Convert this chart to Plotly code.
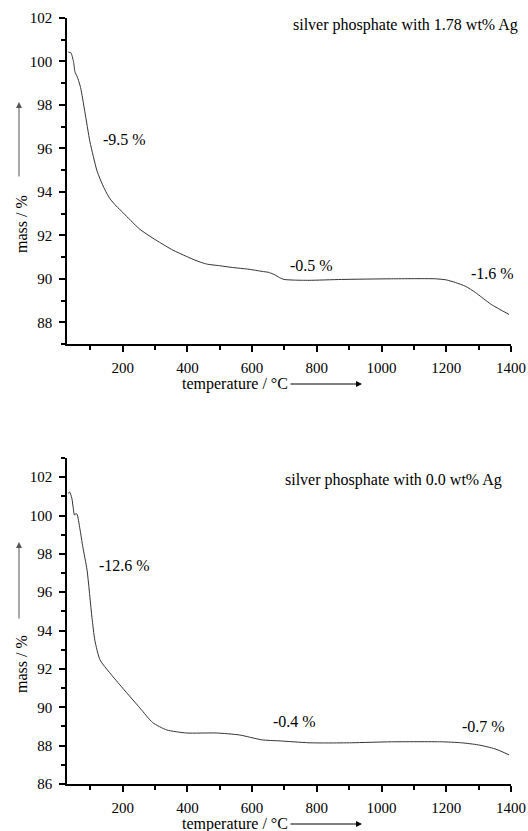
import plotly.graph_objects as go

# ---- data ----
temp_top = [32, 40, 48, 53, 58, 62, 70, 83, 99, 120, 130, 145, 160, 180, 200, 225, 253, 285, 314,
            355, 397, 430, 459, 500, 540, 590, 631, 650, 668, 685, 699, 730, 776, 877, 1031,
            1166, 1200, 1228, 1260, 1290, 1339, 1394]
mass_top = [100.43, 100.4, 100.0, 99.5, 99.35, 99.2, 98.8, 97.7, 96.3, 95.0, 94.6, 94.1, 93.7,
            93.35, 93.06, 92.68, 92.28, 91.95, 91.68, 91.32, 91.03, 90.82, 90.68, 90.6, 90.52,
            90.44, 90.34, 90.3, 90.2, 90.05, 89.97, 89.94, 89.93, 89.97, 90.0, 90.0, 89.95,
            89.83, 89.65, 89.37, 88.82, 88.36]

temp_bot = [31, 36, 43, 48, 51, 55, 59, 68, 77, 90, 105, 114, 130, 160, 200, 253, 293, 336,
            397, 489, 560, 631, 683, 776, 837, 908, 1031, 1185, 1246, 1299, 1351, 1394]
mass_bot = [101.15, 101.22, 100.9, 100.3, 100.02, 100.1, 100.07, 99.3, 98.35, 97.15, 94.7, 93.5,
            92.47, 91.8, 91.0, 89.97, 89.2, 88.82, 88.66, 88.66, 88.56, 88.3, 88.25, 88.15,
            88.14, 88.15, 88.2, 88.2, 88.15, 88.04, 87.83, 87.52]

titles = ["silver phosphate with 1.78 wt% Ag", "silver phosphate with 0.0 wt% Ag"]
title_pos = [(1074, 101.7), (1037, 101.84)]
steps_top = ["-9.5 %", "-0.5 %", "-1.6 %"]
steps_top_pos = [(206, 96.42), (785, 90.62), (1342, 90.25)]
steps_bot = ["-12.6 %", "-0.4 %", "-0.7 %"]
steps_bot_pos = [(206, 97.42), (730, 89.24), (1314, 88.98)]

x_range = [28, 1400]
y_range_top = [87, 102]
y_range_bot = [86, 103]

FONT = "Liberation Serif, Times New Roman, serif"
W, H = 528, 831
ML, MR, MT, MB = 67, 17, 18, 47
PW, PH = W - ML - MR, H - MT - MB

def px(x):  # pixel x -> paper
    return (x - ML) / PW

def py(y):  # pixel y -> paper
    return (H - MB - y) / PH

fig = go.Figure()
fig.add_trace(go.Scatter(x=temp_top, y=mass_top, mode="lines", xaxis="x", yaxis="y",
                         line=dict(color="#333333", width=1, shape="spline", smoothing=0.6),
                         showlegend=False, hoverinfo="skip"))
fig.add_trace(go.Scatter(x=temp_bot, y=mass_bot, mode="lines", xaxis="x2", yaxis="y2",
                         line=dict(color="#333333", width=1, shape="spline", smoothing=0.6),
                         showlegend=False, hoverinfo="skip"))

axis_common = dict(showline=True, linecolor="black", linewidth=1.5, ticks="outside",
                   ticklen=6, tickwidth=1.5, tickcolor="black", showgrid=False, zeroline=False,
                   automargin=False,
                   tickfont=dict(family=FONT, size=15, color="black"))

top_dom = [py(344), py(18)]
bot_dom = [py(784), py(458)]

def minor(d):
    return dict(dtick=d, tick0=0, ticks="outside", ticklen=4, tickwidth=1.5, tickcolor="black")

fig.update_layout(
    template="none",
    width=W, height=H,
    margin=dict(l=ML, r=MR, t=MT, b=MB),
    paper_bgcolor="white", plot_bgcolor="white",
    xaxis=dict(domain=[0, 1], anchor="y", range=x_range, dtick=200, tick0=0,
               minor=minor(100), ticklabelstandoff=3, **axis_common),
    yaxis=dict(domain=top_dom, anchor="x", range=y_range_top, dtick=2, tick0=0,
               minor=minor(1), ticklabelstandoff=4, **axis_common),
    xaxis2=dict(domain=[0, 1], anchor="y2", range=x_range, dtick=200, tick0=0,
                minor=minor(100), ticklabelstandoff=3, **axis_common),
    yaxis2=dict(domain=bot_dom, anchor="x2", range=y_range_bot, dtick=2, tick0=0,
                minor=minor(1), ticklabelstandoff=4, **axis_common),
)

tf = dict(family=FONT, size=16, color="black")
ann = []
for i, (xr, yr) in enumerate([("x", "y"), ("x2", "y2")]):
    tx, ty = title_pos[i]
    ann.append(dict(x=tx, y=ty, xref=xr, yref=yr, text=titles[i], showarrow=False,
                    font=tf, xanchor="center", yanchor="middle"))
    labels, pos = (steps_top, steps_top_pos) if i == 0 else (steps_bot, steps_bot_pos)
    for t, (x, y) in zip(labels, pos):
        ann.append(dict(x=x, y=y, xref=xr, yref=yr, text=t, showarrow=False, font=tf,
                        xanchor="center", yanchor="middle"))

# axis titles with arrows
for xl_y, yl_y, arr_head_y, arr_len in [(384, 224, 102, 76), (824, 664, 542, 78)]:
    ann.append(dict(x=px(234.5), y=py(xl_y), xref="paper", yref="paper",
                    text="temperature / °C", showarrow=False, font=tf,
                    xanchor="center", yanchor="middle"))
    ann.append(dict(x=px(362), y=py(xl_y), xref="paper", yref="paper", text="",
                    showarrow=True, ax=-73, ay=0, arrowhead=2, arrowsize=1.2,
                    arrowwidth=1, arrowcolor="black"))
    ann.append(dict(x=px(21), y=py(yl_y), xref="paper", yref="paper",
                    text="mass / %", showarrow=False, font=tf, textangle=-90,
                    xanchor="center", yanchor="middle"))
    ann.append(dict(x=px(19), y=py(arr_head_y), xref="paper", yref="paper", text="",
                    showarrow=True, ax=0, ay=arr_len, arrowhead=2, arrowsize=1.2,
                    arrowwidth=1, arrowcolor="#555555"))

fig.update_layout(annotations=ann)
fig.write_html("out.html", config={"displayModeBar": False},
               post_script="document.body.style.margin='0';")
